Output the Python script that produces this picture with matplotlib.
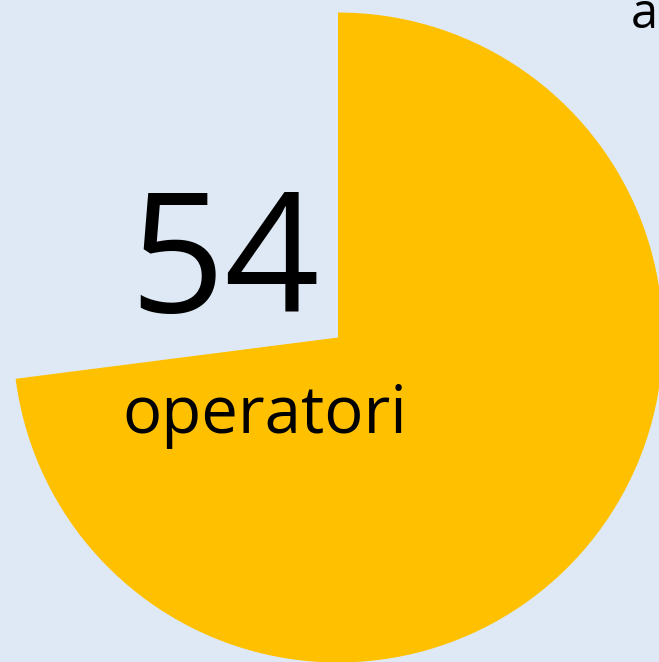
import matplotlib.pyplot as plt

# pie values: operators vs the rest
values = [54, 20]
colors = ['#FFC000', 'none']
big_label = '54'
small_label = 'operatori'
corner_label = 'a'

bg = '#DEE9F5'
W, H = 659, 662

fig = plt.figure(figsize=(W / 100, H / 100), dpi=100)
fig.patch.set_facecolor(bg)
ax = fig.add_axes([0, 0, 1, 1])
ax.set_facecolor(bg)

ax.pie(values, colors=colors, startangle=90, counterclock=False,
       center=(338, H - 337.5), radius=325, frame=False,
       wedgeprops={'linewidth': 0})
ax.set_xlim(0, W)
ax.set_ylim(0, H)
ax.set_aspect('auto')
ax.axis('off')

ax.text(225, H - 312, big_label, fontsize=120, family='Open Sans',
        ha='center', va='baseline', color='black')
ax.text(265, H - 433, small_label, fontsize=47, family='Open Sans',
        ha='center', va='baseline', color='black')
ax.text(644, H - 28, corner_label, fontsize=35, family='Open Sans',
        ha='center', va='baseline', color='black')

fig.savefig('out.png', dpi=100, facecolor=bg)
